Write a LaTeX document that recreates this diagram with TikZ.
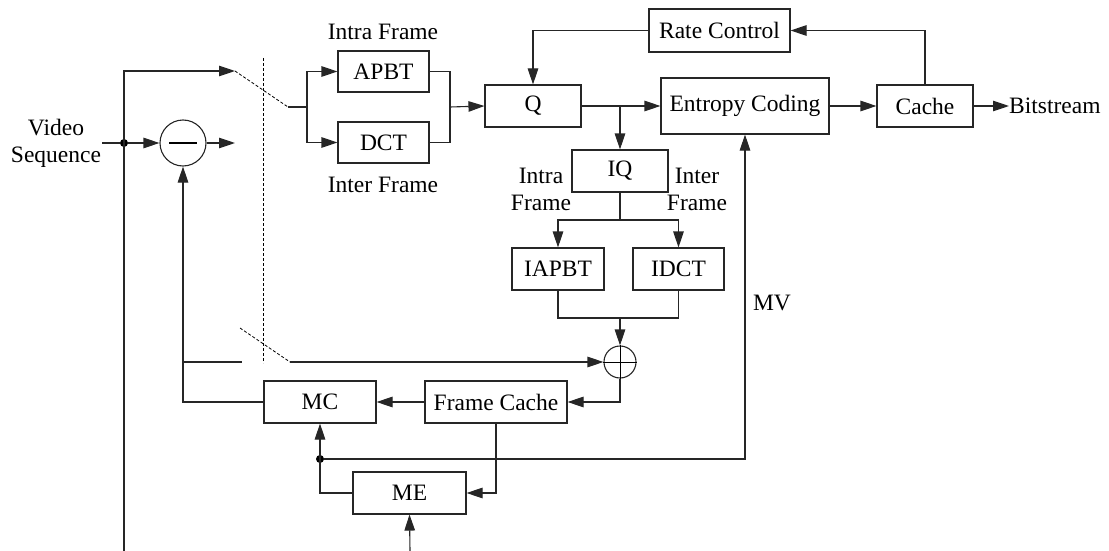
\documentclass[tikz,border=0pt]{standalone}
\usepackage{fontspec}
\setmainfont{Liberation Serif}
\usetikzlibrary{arrows.meta}
\tikzset{
  wire/.style={line width=1.1pt, draw=black!85},
  arr/.style={wire, -{Triangle[length=16pt,width=10.5pt]}},
  blk/.style={draw=black!85, line width=1.1pt, rectangle, inner sep=0pt, font=\fontsize{23.5}{27}\selectfont},
  lbl/.style={inner sep=0pt, align=center, font=\fontsize{23.5}{27}\selectfont},
  sw/.style={line width=0.8pt, dash pattern=on 3pt off 2pt},
  jdot/.style={circle, fill=black, inner sep=0pt, minimum size=8pt},
  opc/.style={circle, draw=black!85, line width=1.1pt, inner sep=0pt}
}
\begin{document}
\begin{tikzpicture}[x=1pt,y=-1pt]
\useasboundingbox (0,0) rectangle (1109,551);
% blocks
\node[blk, minimum width=91pt, minimum height=41pt] (apbt) at (383.5,71.5) {APBT};
\node[blk, minimum width=91pt, minimum height=41pt] (dct) at (383.5,142.5) {DCT};
\node[blk, minimum width=96pt, minimum height=42pt] (q) at (533,106) {Q};
\node[blk, minimum width=141pt, minimum height=43pt] (rc) at (719.5,30.5) {Rate Control};
\node[blk, minimum width=168pt, minimum height=56pt] (ec) at (745,106) {Entropy Coding};
\node[blk, minimum width=96pt, minimum height=42pt] (cache) at (925,106) {Cache};
\node[blk, minimum width=96pt, minimum height=42pt] (iq) at (620,171) {IQ};
\node[blk, minimum width=92pt, minimum height=42pt] (iapbt) at (558,269) {IAPBT};
\node[blk, minimum width=91pt, minimum height=42pt] (idct) at (678.5,269) {IDCT};
\node[blk, minimum width=112pt, minimum height=42pt] (mc) at (320,402) {MC};
\node[blk, minimum width=142pt, minimum height=42pt] (fc) at (496,402) {Frame Cache};
\node[blk, minimum width=113pt, minimum height=42pt] (me) at (409.5,493) {ME};
\node[opc, minimum size=46pt] (sub) at (183,143) {};
\node[opc, minimum size=32pt] (sum) at (620,362) {};
\draw[line width=1.8pt] (169,143) -- (197,143);
\draw[line width=0.9pt] (sum.west) -- (sum.east) (sum.north) -- (sum.south);
% labels
\node[lbl] (vs) at (56,143) {Video\\Sequence};
\node[lbl] (intraA) at (383,32) {Intra Frame};
\node[lbl] (interA) at (383,185) {Inter Frame};
\node[lbl] (intraB) at (541,189) {Intra\\Frame};
\node[lbl] (interB) at (697,189) {Inter\\Frame};
\node[lbl] (mv) at (772,303) {MV};
\node[lbl, anchor=west] (bs) at (1009,106) {Bitstream};
% coordinates
\coordinate (vin) at (102,143);
\node[jdot] (d1) at (124,143) {};
\coordinate (bot1) at (124,551);
\coordinate (top1) at (124,71);
\coordinate (s1a) at (235,71);
\coordinate (s1b) at (288,107);
\coordinate (s1c) at (307,107);
\coordinate (subout) at (235,143);
\coordinate (s2a) at (242,362);
\coordinate (s2d) at (240,328);
\coordinate (s2b) at (290,362);
\node[jdot] (d2) at (320,459) {};
\coordinate (bot2) at (410,551);
% input and subtractor
\draw[wire] (vin) -- (d1);
\draw[arr] (d1) -- (sub.west);
\draw[arr] (sub.east) -- (subout);
\draw[arr] (bot1) -- (top1) -- (s1a);
% upper switch
\draw[sw] (s1a) -- (s1b);
\draw[wire] (s1b) -- (s1c);
\draw[arr] (s1c) |- (apbt.west);
\draw[arr] (s1c) |- (dct.west);
\draw[sw] (263,58) -- (263,363);
% transforms to Q
\draw[wire] (apbt.east) -| (450,107);
\draw[wire] (dct.east) -| (450,107);
\draw[arr] (450,107) -- (q.west);
\draw[arr] (q.east) -- (q.east -| ec.west);
\draw[arr] (620,106) -- (iq.north);
\draw[arr] (ec.east) -- (cache.west);
\draw[arr] (cache.east) -- (bs.west);
\draw[arr] (cache.north) |- (rc.east);
\draw[arr] (rc.west) -| (q.north);
% inverse path
\draw[wire] (iq.south) -- (620,220);
\draw[arr] (620,220) -| (iapbt.north);
\draw[arr] (620,220) -| (idct.north);
\draw[wire] (iapbt.south) |- (620,318);
\draw[wire] (idct.south) |- (620,318);
\draw[arr] (620,318) -- (sum.north);
\draw[arr] (sum.south) |- (fc.east);
\draw[arr] (fc.west) -- (mc.east);
\draw[arr] (mc.west) -| (sub.south);
% lower switch
\draw[wire] (183,362) -- (s2a);
\draw[sw] (s2d) -- (s2b);
\draw[arr] (s2b) -- (sum.west);
% motion estimation
\draw[arr] (fc.south) |- (me.east);
\draw[arr] (me.west) -| (mc.south);
\draw[arr] (d2) -| (ec.south);
\draw[arr] (bot2) -- (me.south);
\end{tikzpicture}
\end{document}
